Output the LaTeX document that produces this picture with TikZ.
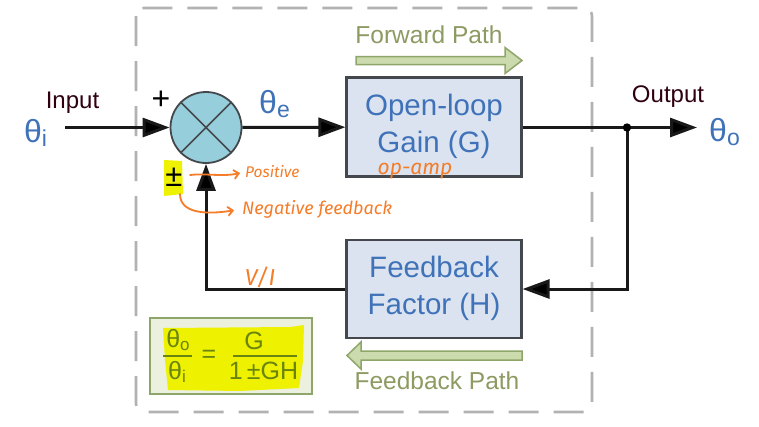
\documentclass[tikz,border=0pt]{standalone}
\usepackage{fontspec}
\setmainfont{Liberation Sans}
\newfontfamily\handfont[ItalicFont=* Italic]{Fira Sans}
\usetikzlibrary{arrows.meta,calc}
\definecolor{thetablue}{HTML}{3F72B8}
\definecolor{boxfill}{HTML}{DAE3EF}
\definecolor{boxedge}{HTML}{44484C}
\definecolor{sumfill}{HTML}{96CEDC}
\definecolor{pathfill}{HTML}{CBDBAE}
\definecolor{pathedge}{HTML}{8FA66A}
\definecolor{pathtext}{HTML}{8D9A62}
\definecolor{eqfill}{HTML}{EBF0DF}
\definecolor{hl}{HTML}{EEF200}
\definecolor{eqtext}{HTML}{6A8410}
\definecolor{pen}{HTML}{F57C28}
\newcommand{\fs}[1]{\fontsize{#1}{#1}\selectfont}
\newcommand{\thetasub}[2]{\fontsize{#1}{#1}\selectfont θ\raisebox{-4.5pt}{\fontsize{23}{23}\selectfont #2}}
\newcommand{\eqth}[1]{\fs{25}θ\raisebox{-3pt}{\fs{17}#1}}
\newcommand{\twolines}[3]{\raisebox{#1}{\begin{tabular}{@{}c@{}}#2\\#3\end{tabular}}}
\tikzset{
  blockbox/.style={draw=boxedge,line width=2.2pt,fill=boxfill,minimum width=175pt,align=center,text=thetablue,font=\fontsize{29.5}{37}\selectfont,inner sep=0pt},
  flow/.style={draw=black!90,line width=3pt},
  flowtip/.style={-{Triangle[length=27pt,width=19pt,fill=black]}},
  lab/.style={font=\fs{24},text=black!75!purple,inner sep=0pt},
  theta/.style={text=thetablue,inner sep=0pt},
  pathlab/.style={font=\fs{24.5},text=pathtext,inner sep=0pt},
  patharrow/.style={draw=pathedge,fill=pathfill,line width=1.5pt,line join=miter},
  eqlab/.style={text=eqtext,inner sep=0pt,font=\fs{25}},
  eqrule/.style={draw=eqtext,line width=1.4pt},
  handtext/.style={text=pen,inner sep=0pt},
  handline/.style={draw=pen,line width=1.8pt,line cap=round,-{Straight Barb[length=5pt,width=9pt]}}
}
\begin{document}
\begin{tikzpicture}[x=1pt,y=-1pt]
\useasboundingbox (0,0) rectangle (759,426);
\fill[white] (0,0) rectangle (759,426);
% dashed enclosure
\draw[draw=black!30,line width=2.6pt,dash pattern=on 30pt off 15pt,rounded corners=8pt] (136,8) rectangle (592,412);
% path arrows
\draw[patharrow] (356,56.5) -- (505,56.5) -- (505,47.5) -- (522,60.5) -- (505,73.5) -- (505,64.5) -- (356,64.5) -- cycle;
\draw[patharrow] (522,351) -- (361,351) -- (361,342) -- (347,355.5) -- (361,369) -- (361,360) -- (522,360) -- cycle;
\node[pathlab] (fwd) at (429,35) {Forward Path};
\node[pathlab] (fbk) at (437,381) {Feedback Path};
% blocks
\node[blockbox,minimum height=99pt] (G) at (434,127) {\twolines{-1.5pt}{Open-loop}{Gain (G)}};
\node[blockbox,minimum height=98pt] (H) at (434,289) {\twolines{2.5pt}{Feedback}{Factor (H)}};
\node[draw=boxedge,line width=1.8pt,fill=sumfill,circle,minimum size=71pt,inner sep=0pt] (sum) at (206,127.5) {};
\draw[boxedge,line width=1.5pt] (sum.45) -- (sum.225) (sum.135) -- (sum.315);
% labels
\node[lab,anchor=base] (input) at (72.5,108) {Input};
\node[lab,anchor=base] (output) at (668,102) {Output};
\node[theta,anchor=base west] (ti) at (24,142) {\thetasub{32}{i}};
\node[theta,anchor=base west] (te) at (259,113) {\thetasub{32}{e}};
\node[theta,anchor=base west] (to) at (709,141) {\thetasub{32}{o}};
\node[inner sep=0pt,font=\fs{32}] (plus) at (161,100) {+};
% highlight of the sign
\fill[hl] (164,160) -- (182,161) -- (183,194) -- (164,196) -- cycle;
\node[inner sep=0pt,font=\fs{31}] (pm) at (174,177) {±};
% connectors
\coordinate (instart) at (65,127.5);
\coordinate (outend) at (697,127.5);
\coordinate (jn) at (627,127.5);
\coordinate (corner) at (206,289);
\draw[flow,flowtip] (instart) -- (sum);
\draw[flow,flowtip] (sum) -- (G);
\draw[flow,flowtip] (G.east |- jn) -- (outend);
\draw[flow,flowtip] (jn) |- (H.east);
\draw[flow,flowtip] (H.west) -- (corner) -- (sum.south);
\fill[black] (jn) circle (4.2pt);
% equation
\node[draw=pathedge,line width=2pt,fill=eqfill,minimum width=162pt,minimum height=76pt,inner sep=0pt] (eq) at (230.5,355.5) {};
\fill[hl] (163,328) -- (290,327) -- (304,325) -- (303,361) -- (299,388) -- (240,391) -- (168,390) -- (165,360) -- cycle;
\node[eqlab] (eqno) at (178,340) {\eqth{o}};
\node[eqlab] (eqni) at (177,372) {\eqth{i}};
\node[eqlab] (eqeq) at (209,356) {=};
\node[eqlab] (eqg) at (254,341) {G};
\node[eqlab] (eqden) at (263.5,371) {1\,±GH};
\coordinate (r1a) at (163,356); \coordinate (r1b) at (192,356);
\coordinate (r2a) at (233,356); \coordinate (r2b) at (297,356);
\draw[eqrule] (r1a) -- (r1b);
\draw[eqrule] (r2a) -- (r2b);
% handwriting
\node[handtext,font=\handfont\itshape\fs{15.5},anchor=west] (posw) at (245,172) {Positive};
\node[handtext,font=\handfont\itshape\fs{18},anchor=west] (negw) at (242,209) {Negative feedback};
\node[handtext,font=\handfont\itshape\fs{21}] (opamp) at (415,171) {op-amp};
\node[handtext,font=\handfont\itshape\fs{23}] (vi) at (260,277) {V/I};
\draw[handline,shorten >=5pt] (190,175) .. controls (205,173) and (222,177) .. (posw.west);
\draw[handline,shorten >=8pt] (180,194) .. controls (180,213) and (205,215) .. (negw.west);
\end{tikzpicture}
\end{document}
